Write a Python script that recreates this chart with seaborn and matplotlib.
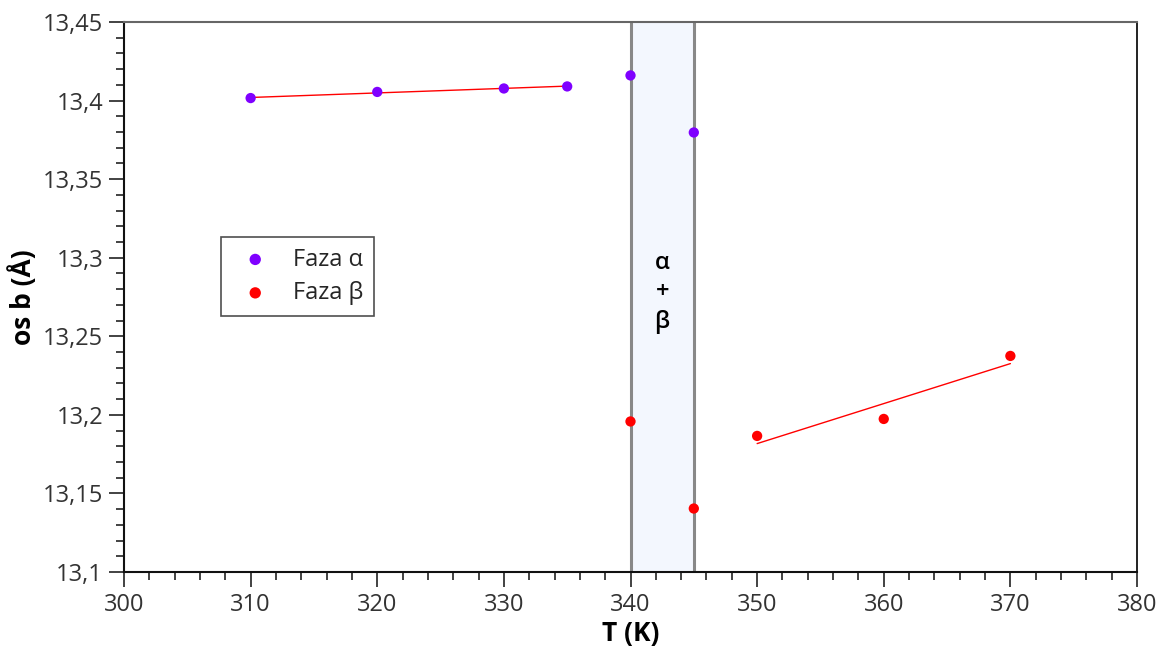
import numpy as np
import pandas as pd
import matplotlib
matplotlib.use("Agg")
import matplotlib.pyplot as plt
from matplotlib.ticker import MultipleLocator, FixedLocator, FixedFormatter
import seaborn as sns

# ---- data ----
T_alpha = [310, 320, 330, 335, 340, 345]
b_alpha = [13.4016, 13.4055, 13.4077, 13.4090, 13.4160, 13.3797]
T_beta = [340, 345, 350, 360, 370]
b_beta = [13.1958, 13.1404, 13.1866, 13.1974, 13.2375]
fit_alpha_T = [310, 320, 330, 335]
fit_beta_T = [350, 360, 370]

y_ticks = [13.1, 13.15, 13.2, 13.25, 13.3, 13.35, 13.4, 13.45]
y_ticklabels = ["13,1", "13,15", "13,2", "13,25", "13,3", "13,35", "13,4", "13,45"]
x_ticks = [300, 310, 320, 330, 340, 350, 360, 370, 380]
band = (340, 345)

sns.set_style("white")
plt.rcParams['font.family'] = ['Open Sans', 'DejaVu Sans']

fig = plt.figure(figsize=(11.61, 6.5), dpi=100)
ax = fig.add_axes([124/1161, 1-572/650, (1137-124)/1161, (572-22)/650])

# two-phase band
ax.axvspan(band[0], band[1], color='#f3f7fe', zorder=0, lw=0)
for xv in band:
    ax.axvline(xv, color='#888888', lw=2.2, zorder=1)

dfa = pd.DataFrame({'T': T_alpha, 'b': b_alpha})
dfb = pd.DataFrame({'T': T_beta, 'b': b_beta})

# linear fits
fa = dfa[dfa['T'].isin(fit_alpha_T)]
fb = dfb[dfb['T'].isin(fit_beta_T)]
sns.regplot(data=fa, x='T', y='b', scatter=False, ci=None, truncate=True,
            color='red', line_kws={'lw': 1}, ax=ax)
sns.regplot(data=fb, x='T', y='b', scatter=False, ci=None, truncate=True,
            color='red', line_kws={'lw': 1}, ax=ax)

sns.scatterplot(data=dfa, x='T', y='b', color='#7f00ff', s=55, edgecolor='none',
                label='Faza α', ax=ax, zorder=3)
sns.scatterplot(data=dfb, x='T', y='b', color='#ff0000', s=55, edgecolor='none',
                label='Faza β', ax=ax, zorder=3)

ax.text(342.5, 13.278, "α\n+\nβ", ha='center', va='center', fontsize=17,
        fontweight='semibold', linespacing=1.3, color='black')

ax.set_xlim(300, 380)
ax.set_ylim(13.1, 13.45)
ax.xaxis.set_major_locator(FixedLocator(x_ticks))
ax.xaxis.set_minor_locator(MultipleLocator(2))
ax.yaxis.set_major_locator(FixedLocator(y_ticks))
ax.yaxis.set_major_formatter(FixedFormatter(y_ticklabels))
ax.yaxis.set_minor_locator(MultipleLocator(0.01))

ax.tick_params(axis='both', which='major', direction='out', length=11, width=1.2,
               color='#222222', labelsize=17, labelcolor='#333333', pad=4,
               bottom=True, left=True, top=False, right=False)
ax.tick_params(axis='both', which='minor', direction='out', length=6, width=1.2,
               color='#222222', bottom=True, left=True, top=False, right=False)

for side in ['left', 'bottom']:
    ax.spines[side].set_color('#111111')
    ax.spines[side].set_linewidth(1.5)
ax.spines['top'].set_color('#666666')
ax.spines['top'].set_linewidth(1.5)
ax.spines['right'].set_color('#111111')
ax.spines['right'].set_linewidth(1.3)

ax.set_xlabel('T (K)', fontsize=19, fontweight='bold', color='black', labelpad=2)
ax.set_ylabel('os b (Å)', fontsize=19, fontweight='bold', color='black', labelpad=4)

leg = ax.legend(loc='upper left', bbox_to_anchor=((221-124)/1013, 1-(237-22)/550),
                fontsize=17, frameon=True, fancybox=False, edgecolor='#222222',
                borderpad=0.45, handletextpad=0.6, borderaxespad=0, markerscale=1.1,
                labelspacing=0.4)
leg.get_frame().set_linewidth(1.2)

fig.savefig('out.png', dpi=100)
